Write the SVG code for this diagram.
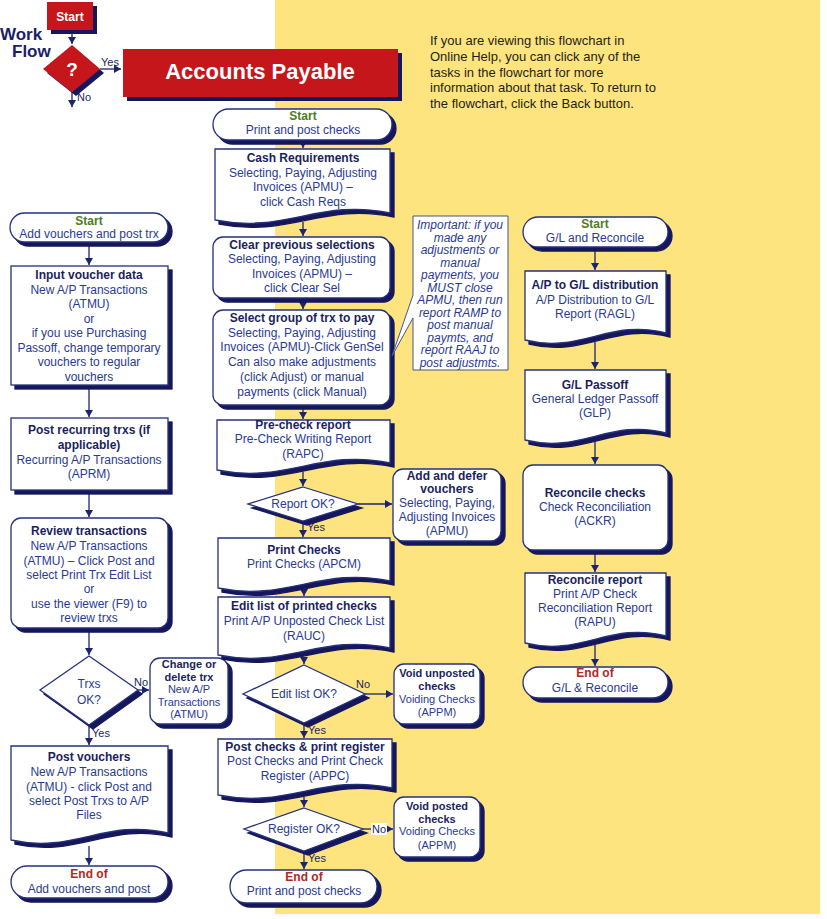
<svg xmlns="http://www.w3.org/2000/svg" width="827" height="919" viewBox="0 0 827 919">
<defs>
<filter id="shd" x="-10%" y="-10%" width="125%" height="130%">
<feOffset in="SourceAlpha" dx="3.5" dy="3.5" result="o"/>
<feFlood flood-color="#14145a"/>
<feComposite in2="o" operator="in"/>
<feMerge><feMergeNode/><feMergeNode in="SourceGraphic"/></feMerge>
</filter>
<marker id="ah" markerUnits="userSpaceOnUse" markerWidth="8" markerHeight="8" refX="7" refY="4" orient="auto">
<path d="M0,0 L7,4 L0,8 Z" fill="#1c2370"/>
</marker>
<style>
text{font-family:"Liberation Sans",Arial,sans-serif;}
.bx{fill:#fff;stroke:#24307e;stroke-width:1.3;filter:url(#shd);}
.red{fill:#c5151c;filter:url(#shd);}
.t{font-size:12px;fill:#2a3a92;text-anchor:middle;}
.s{font-size:11px;fill:#2a3a92;text-anchor:middle;}
.b{font-weight:bold;fill:#1b1f5e;}
.g{font-weight:bold;fill:#4e7d22;}
.e{font-weight:bold;fill:#b5261f;}
.lab{font-size:11px;fill:#1b1f5e;}
.cn{stroke:#1c2370;stroke-width:1.3;fill:none;marker-end:url(#ah);}
.co{fill:#fff;stroke:#4a5585;stroke-width:1;}
.ci{font-size:12px;font-style:italic;fill:#2a3a92;text-anchor:middle;}
</style>
</defs>
<rect x="0" y="0" width="827" height="919" fill="#ffffff"/>
<rect x="275" y="0" width="545" height="914" fill="#fde47e"/>

<g id="connectors">
<path class="cn" d="M72,30 V44"/>
<path class="cn" d="M100,69 H121"/>
<path class="cn" d="M72,92 V107"/>
<path class="cn" d="M89,242 V265"/>
<path class="cn" d="M89,385 V417"/>
<path class="cn" d="M89,490 V517"/>
<path class="cn" d="M89,628 V655"/>
<path class="cn" d="M138,690 H149"/>
<path class="cn" d="M89,725 V745"/>
<path class="cn" d="M89,846 V865"/>
<path class="cn" d="M303,140 V148"/>
<path class="cn" d="M303,222 V236"/>
<path class="cn" d="M303,298 V309"/>
<path class="cn" d="M303,405 V419"/>
<path class="cn" d="M303,472 V486"/>
<path class="cn" d="M358,504 H392"/>
<path class="cn" d="M303,521 V537"/>
<path class="cn" d="M304,590 V596"/>
<path class="cn" d="M304,657 V664"/>
<path class="cn" d="M365,694 H393"/>
<path class="cn" d="M304,723 V738"/>
<path class="cn" d="M304,797 V807"/>
<path class="cn" d="M363,829 H393"/>
<path class="cn" d="M304,851 V869"/>
<path class="cn" d="M595,247 V270"/>
<path class="cn" d="M595,342 V369"/>
<path class="cn" d="M595,442 V464"/>
<path class="cn" d="M595,550 V572"/>
<path class="cn" d="M595,645 V666"/>
<text class="lab" x="101" y="66" font-size="10">Yes</text>
<text class="lab" x="77" y="101" font-size="10">No</text>
<text class="lab" x="134" y="686">No</text>
<text class="lab" x="92" y="737">Yes</text>
<text class="lab" x="307" y="531">Yes</text>
<text class="lab" x="356" y="688">No</text>
<text class="lab" x="308" y="734">Yes</text>
<rect x="371" y="823" width="16" height="12" fill="#fff"/>
<text class="lab" x="372" y="833">No</text>
<text class="lab" x="308" y="862">Yes</text>
</g>

<g id="header">
<text x="0" y="40" font-size="17" font-weight="bold" fill="#1b1f6a">Work</text>
<text x="12" y="57" font-size="17" font-weight="bold" fill="#1b1f6a">Flow</text>
</g>
<g id="hstart">
<rect class="red" x="47" y="2" width="46" height="28"/>
<text x="70" y="21" font-size="12" font-weight="bold" fill="#fff" text-anchor="middle">Start</text>
</g>
<g id="hdecision">
<path class="red" d="M72,45 L100,69 L72,92 L43,69 Z"/>
<text x="72" y="76" font-size="19" font-weight="bold" fill="#fff" text-anchor="middle">?</text>
</g>
<g id="banner">
<rect class="red" x="123" y="49" width="275" height="48"/>
<text x="260" y="79" font-size="22" font-weight="bold" fill="#fff" text-anchor="middle">Accounts Payable</text>
</g>
<g id="note">
<text x="430" y="45" font-size="13" fill="#1e1e1e">If you are viewing this flowchart in</text>
<text x="430" y="61" font-size="13" fill="#1e1e1e">Online Help, you can click any of the</text>
<text x="430" y="76.5" font-size="13" fill="#1e1e1e">tasks in the flowchart for more</text>
<text x="430" y="92" font-size="13" fill="#1e1e1e">information about that task. To return to</text>
<text x="430" y="107.5" font-size="13" fill="#1e1e1e">the flowchart, click the Back button.</text>
</g>

<!-- Left column -->
<g id="startAdd">
<rect class="bx" x="10" y="213" width="158" height="29" rx="14.5"/>
<text class="t g" x="89" y="225">Start</text>
<text class="t" x="89" y="238">Add vouchers and post trx</text>
</g>
<g id="inputVoucher">
<rect class="bx" x="11" y="266" width="157" height="119"/>
<text class="t b" x="89" y="279">Input voucher data</text>
<text class="t" x="89" y="293.5">New A/P Transactions</text>
<text class="t" x="89" y="308">(ATMU)</text>
<text class="t" x="89" y="322.5">or</text>
<text class="t" x="89" y="337">if you use Purchasing</text>
<text class="t" x="89" y="351.5">Passoff, change temporary</text>
<text class="t" x="89" y="366">vouchers to regular</text>
<text class="t" x="89" y="380.5">vouchers</text>
</g>
<g id="postRecurring">
<rect class="bx" x="11" y="418" width="157" height="72"/>
<text class="t b" x="89" y="434">Post recurring trxs (if</text>
<text class="t b" x="89" y="449">applicable)</text>
<text class="t" x="89" y="464">Recurring A/P Transactions</text>
<text class="t" x="89" y="478">(APRM)</text>
</g>
<g id="review">
<rect class="bx" x="11" y="518" width="157" height="110" rx="10"/>
<text class="t b" x="89" y="535">Review transactions</text>
<text class="t" x="89" y="550">New A/P Transactions</text>
<text class="t" x="89" y="565">(ATMU) – Click Post and</text>
<text class="t" x="89" y="579">select Print Trx Edit List</text>
<text class="t" x="89" y="593">or</text>
<text class="t" x="89" y="608">use the viewer (F9) to</text>
<text class="t" x="89" y="622">review trxs</text>
</g>
<g id="trxsOk">
<path class="bx" d="M89,656 L138,690 L89,725 L40,690 Z"/>
<text class="t" x="89" y="688">Trxs</text>
<text class="t" x="89" y="704">OK?</text>
</g>
<g id="changeDelete">
<rect class="bx" x="150" y="658" width="78" height="66" rx="10"/>
<text class="s b" x="189" y="668">Change or</text>
<text class="s b" x="189" y="681">delete trx</text>
<text class="s" x="189" y="693">New A/P</text>
<text class="s" x="189" y="706">Transactions</text>
<text class="s" x="189" y="718">(ATMU)</text>
</g>
<g id="postVouchers">
<path class="bx" d="M11,746 H168 V833 C105,818 74,854 11,840 Z"/>
<text class="t b" x="89" y="761">Post vouchers</text>
<text class="t" x="89" y="776">New A/P Transactions</text>
<text class="t" x="89" y="791">(ATMU) - click Post and</text>
<text class="t" x="89" y="805">select Post Trxs to A/P</text>
<text class="t" x="89" y="819">Files</text>
</g>
<g id="endAdd">
<rect class="bx" x="11" y="866" width="157" height="32" rx="16"/>
<text class="t e" x="89" y="878">End of</text>
<text class="t" x="89" y="893">Add vouchers and post</text>
</g>

<!-- Center column -->
<g id="startPrint">
<rect class="bx" x="213" y="109" width="179" height="31" rx="15.5"/>
<text class="t g" x="303" y="120">Start</text>
<text class="t" x="303" y="134">Print and post checks</text>
</g>
<g id="cashReq">
<path class="bx" d="M215,149 H390 V213 C320,198 285,234 215,220 Z"/>
<text class="t b" x="303" y="162">Cash Requirements</text>
<text class="t" x="303" y="177">Selecting, Paying, Adjusting</text>
<text class="t" x="303" y="191">Invoices (APMU) –</text>
<text class="t" x="303" y="206">click Cash Reqs</text>
</g>
<g id="clearPrev">
<rect class="bx" x="213" y="237" width="177" height="61" rx="10"/>
<text class="t b" x="302" y="249">Clear previous selections</text>
<text class="t" x="302" y="263">Selecting, Paying, Adjusting</text>
<text class="t" x="302" y="278">Invoices (APMU) –</text>
<text class="t" x="302" y="292">click Clear Sel</text>
</g>
<g id="selectGroup">
<rect class="bx" x="213" y="310" width="177" height="95" rx="10"/>
<text class="t b" x="302" y="322">Select group of trx to pay</text>
<text class="t" x="302" y="337">Selecting, Paying, Adjusting</text>
<text class="t" x="302" y="351">Invoices (APMU)-Click GenSel</text>
<text class="t" x="302" y="366">Can also make adjustments</text>
<text class="t" x="302" y="381">(click Adjust) or manual</text>
<text class="t" x="302" y="396">payments (click Manual)</text>
</g>
<g id="callout">
<path class="co" d="M413,216 H508 V370 H413 V318 L392,356 L413,295 Z"/>
<text class="ci" x="460" y="229">Important: if you</text>
<text class="ci" x="460" y="241.5">made any</text>
<text class="ci" x="460" y="254">adjustments or</text>
<text class="ci" x="460" y="266.5">manual</text>
<text class="ci" x="460" y="279">payments, you</text>
<text class="ci" x="460" y="291.5">MUST close</text>
<text class="ci" x="460" y="304">APMU, then run</text>
<text class="ci" x="460" y="316.5">report RAMP to</text>
<text class="ci" x="460" y="329">post manual</text>
<text class="ci" x="460" y="341.5">paymts, and</text>
<text class="ci" x="460" y="354">report RAAJ to</text>
<text class="ci" x="460" y="366.5">post adjustmts.</text>
</g>
<g id="precheck">
<path class="bx" d="M217,420 H390 V463 C321,448 286,484 217,470 Z"/>
<text class="t b" x="303" y="429">Pre-check report</text>
<text class="t" x="303" y="443">Pre-Check Writing Report</text>
<text class="t" x="303" y="458">(RAPC)</text>
</g>
<g id="reportOk">
<path class="bx" d="M303,487 L358,504 L303,521 L248,504 Z"/>
<text class="t" x="303" y="508">Report OK?</text>
</g>
<g id="addDefer">
<rect class="bx" x="393" y="469" width="108" height="72" rx="10"/>
<text class="t b" x="447" y="480">Add and defer</text>
<text class="t b" x="447" y="493">vouchers</text>
<text class="t" x="447" y="507">Selecting, Paying,</text>
<text class="t" x="447" y="521">Adjusting Invoices</text>
<text class="t" x="447" y="535">(APMU)</text>
</g>
<g id="printChecks">
<path class="bx" d="M218,538 H390 V581 C321,566 287,602 218,588 Z"/>
<text class="t b" x="304" y="554">Print Checks</text>
<text class="t" x="304" y="568">Print Checks (APCM)</text>
</g>
<g id="editList">
<path class="bx" d="M218,597 H390 V648 C321,633 287,669 218,655 Z"/>
<text class="t b" x="304" y="610">Edit list of printed checks</text>
<text class="t" x="304" y="625">Print A/P Unposted Check List</text>
<text class="t" x="304" y="640">(RAUC)</text>
</g>
<g id="editOk">
<path class="bx" d="M304,665 L365,694 L304,723 L243,694 Z"/>
<text class="t" x="304" y="698">Edit list OK?</text>
</g>
<g id="voidUnposted">
<rect class="bx" x="394" y="664" width="86" height="60" rx="10"/>
<text class="s b" x="437" y="677">Void unposted</text>
<text class="s b" x="437" y="690">checks</text>
<text class="s" x="437" y="703">Voiding Checks</text>
<text class="s" x="437" y="716">(APPM)</text>
</g>
<g id="postChecks">
<path class="bx" d="M218,739 H392 V788 C322,773 288,809 218,795 Z"/>
<text class="t b" x="305" y="751">Post checks &amp; print register</text>
<text class="t" x="305" y="765">Post Checks and Print Check</text>
<text class="t" x="305" y="780">Register (APPC)</text>
</g>
<g id="registerOk">
<path class="bx" d="M304,808 L363,829 L304,851 L244,829 Z"/>
<text class="t" x="304" y="833">Register OK?</text>
</g>
<g id="voidPosted">
<rect class="bx" x="394" y="797" width="86" height="60" rx="10"/>
<text class="s b" x="437" y="810">Void posted</text>
<text class="s b" x="437" y="823">checks</text>
<text class="s" x="437" y="835">Voiding Checks</text>
<text class="s" x="437" y="849">(APPM)</text>
</g>
<g id="endPrint">
<rect class="bx" x="230" y="870" width="147" height="33" rx="16.5"/>
<text class="t e" x="304" y="881">End of</text>
<text class="t" x="304" y="895">Print and post checks</text>
</g>

<!-- Right column -->
<g id="startGL">
<rect class="bx" x="523" y="217" width="145" height="30" rx="15"/>
<text class="t g" x="595" y="228">Start</text>
<text class="t" x="595" y="242">G/L and Reconcile</text>
</g>
<g id="apToGL">
<path class="bx" d="M525,271 H666 V333 C610,318 581,354 525,340 Z"/>
<text class="t b" x="595" y="289">A/P to G/L distribution</text>
<text class="t" x="595" y="304">A/P Distribution to G/L</text>
<text class="t" x="595" y="318">Report (RAGL)</text>
</g>
<g id="glPassoff">
<path class="bx" d="M525,370 H666 V433 C610,418 581,454 525,440 Z"/>
<text class="t b" x="595" y="389">G/L Passoff</text>
<text class="t" x="595" y="403">General Ledger Passoff</text>
<text class="t" x="595" y="417">(GLP)</text>
</g>
<g id="reconcileChecks">
<rect class="bx" x="523" y="465" width="145" height="85" rx="10"/>
<text class="t b" x="595" y="497">Reconcile checks</text>
<text class="t" x="595" y="511">Check Reconciliation</text>
<text class="t" x="595" y="525">(ACKR)</text>
</g>
<g id="reconcileReport">
<path class="bx" d="M525,573 H666 V636 C610,621 581,657 525,643 Z"/>
<text class="t b" x="595" y="584">Reconcile report</text>
<text class="t" x="595" y="598">Print A/P Check</text>
<text class="t" x="595" y="612">Reconciliation Report</text>
<text class="t" x="595" y="626">(RAPU)</text>
</g>
<g id="endGL">
<rect class="bx" x="523" y="667" width="145" height="31" rx="15.5"/>
<text class="t e" x="595" y="677">End of</text>
<text class="t" x="595" y="692">G/L &amp; Reconcile</text>
</g>
</svg>
